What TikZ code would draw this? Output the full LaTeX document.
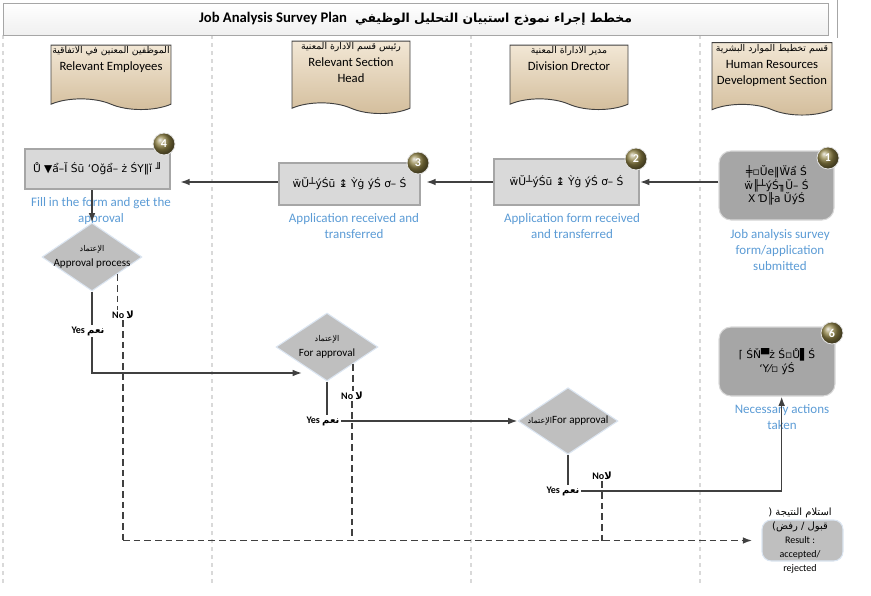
\documentclass[tikz,border=0pt]{standalone}
\usepackage{fontspec}
\setmainfont{Carlito}
\newfontfamily\arabicfont[Script=Arabic]{DejaVu Sans}
\newfontfamily\garblefont{DejaVu Sans}
\TeXXeTstate=1
\usetikzlibrary{shapes.geometric,shapes.symbols,arrows.meta,calc}

\definecolor{boxgray}{HTML}{D9D9D9}
\definecolor{boxedge}{HTML}{A6A6A6}
\definecolor{darkbox}{HTML}{A6A6A6}
\definecolor{diagray}{HTML}{BFBFBF}
\definecolor{glowblue}{HTML}{DCE6F2}
\definecolor{labelblue}{HTML}{5B9BD5}
\definecolor{lanegray}{HTML}{D9D9D9}
\definecolor{linegray}{HTML}{404040}
\definecolor{badgecol}{HTML}{8F8245}
\definecolor{headtop}{HTML}{F2E7D5}
\definecolor{headbot}{HTML}{D3BD9B}

\newcommand{\arab}[1]{{\arabicfont\beginR #1\endR}}

\tikzset{
  lane/.style={draw=lanegray, dashed, line width=0.8pt},
  titlebar/.style={rectangle, draw=boxedge, top color=white, bottom color=black!6, line width=0.6pt},
  lanehead/.style={tape, tape bend top=none, tape bend bottom=out and in, tape bend height=8pt,
    draw=linegray, line width=0.7pt, top color=headtop, bottom color=headbot, align=center,
    inner sep=1pt, minimum width=88.5pt, minimum height=41.25pt},
  stepbox/.style={rectangle, fill=boxgray, draw=boxedge, line width=1.5pt, inner sep=2pt,
    font=\garblefont\fontsize{8}{10}\selectfont},
  roundbox/.style={rectangle, rounded corners=9pt, fill=darkbox, draw=black!15, line width=0.8pt,
    align=center, font=\garblefont\fontsize{8}{10}\selectfont},
  decision/.style={diamond, fill=diagray, draw=glowblue, line width=0.8pt, inner sep=0pt},
  badge/.style={circle, minimum size=16.5pt, inner sep=0pt, shading=ball, ball color=badgecol,
    draw=black!10, line width=0.6pt, text=white, font=\bfseries\fontsize{9}{10}\selectfont},
  note/.style={text=labelblue, align=center, font=\fontsize{9.75}{12}\selectfont},
  dtext/.style={align=center, font=\fontsize{8.3}{11.25}\selectfont},
  answer/.style={font=\bfseries\fontsize{7.5}{9}\selectfont, inner sep=1pt},
  flow/.style={draw=linegray, line width=1.1pt, -{Latex[length=7pt,width=5pt]}},
  solidline/.style={draw=linegray, line width=1.1pt},
  dashline/.style={draw=linegray, line width=1.1pt, dash pattern=on 5pt off 3pt},
}

\begin{document}
\begin{tikzpicture}[x=0.75pt, y=-0.75pt]
    \useasboundingbox (0,0) rectangle (871,596);

    % swim lanes
    \foreach \lx in {3,212,471,700}
        \draw[lane] (\lx,35) -- (\lx,585);
    \draw[draw=boxedge, line width=0.6pt] (837,0) -- (837,38);

    % title
    \node[titlebar, minimum width=618.75pt, minimum height=24pt] (title) at (415.5,19)
        {{\fontsize{11}{13}\selectfont\textbf{Job Analysis Survey Plan}}\hspace{6pt}{\fontsize{9.3}{13}\arabicfont\bfseries\beginR مخطط إجراء نموذج استبيان التحليل الوظيفي\endR}};

    % lane headers
    \node[lanehead] (h1) at (111,72)
        {{\fontsize{7}{9}\selectfont\arab{الموظفين المعنين في الاتفاقية}}\\[1pt]{\fontsize{9.5}{11}\selectfont Relevant Employees}\\[8pt]};
    \node[lanehead] (h2) at (351,72)
        {{\fontsize{7}{9}\selectfont\arab{رئيس قسم الادارة المعنية}}\\[1pt]{\fontsize{9.5}{11}\selectfont Relevant Section}\\{\fontsize{9.5}{11}\selectfont Head}\\[2pt]};
    \node[lanehead] (h3) at (569,72)
        {{\fontsize{7}{9}\selectfont\arab{مدير الاداراة المعنية}}\\[1pt]{\fontsize{9.5}{11}\selectfont Division Drector}\\[8pt]};
    \node[lanehead, minimum width=90pt, minimum height=43.5pt] (h4) at (772,73.5)
        {{\fontsize{7}{9}\selectfont\arab{قسم تخطيط الموارد البشرية}}\\[1pt]{\fontsize{9.5}{11}\selectfont Human Resources}\\{\fontsize{9.5}{11}\selectfont Development Section}\\[2pt]};

    % steps
    \node[stepbox, minimum width=108.75pt, minimum height=30pt] (b4) at (97.5,169) {Ů ▼ẩ–Ĭ Śū ʻOǧẩ– ż ŚY‖ǐ ╜};
    \node[stepbox, minimum width=105.75pt, minimum height=31.5pt] (b3) at (349.5,184) {ẅŬ┴ýŚū ↨ Ỳġ ýŚ ơ– Ś};
    \node[stepbox, minimum width=108.75pt, minimum height=34.5pt] (b2) at (566.5,182) {ẅŬ┴ýŚū ↨ Ỳġ ýŚ ơ– Ś};
    \node[roundbox, minimum width=86.25pt, minimum height=51.75pt] (b1) at (776.5,185.5)
        {╪▫Ŭe‖Ẅẩ Ś\\ẅ╟┴ýŚ╖Ŭ– Ś\\X Ɗ╟a ŬýŚ};
    \node[roundbox, minimum width=87pt, minimum height=51.75pt] (b6) at (777,361.5)
        {⌈ ŚŇ▀ż Ś▫Ů▌Ś\\ʻY⁄▫ ýŚ};
    \node[rectangle, rounded corners=7pt, fill=diagray, draw=glowblue, line width=0.8pt,
        minimum width=60.75pt, minimum height=30.75pt] (res) at (802.5,540.5) {};
    \node[align=center, font=\fontsize{7.5}{10.5}\selectfont] (restext) at (800,540.5)
        {\arab{استلام النتيجة (}\\\arab{قبول / رفض)}\\Result :\\accepted/\\rejected};

    % step badges
    \node[badge] (bg4) at (164,144) {4};
    \node[badge] (bg3) at (418,163) {3};
    \node[badge] (bg2) at (636,159) {2};
    \node[badge] (bg1) at (828,158) {1};
    \node[badge] (bg6) at (832,333) {6};

    % step captions
    \node[note] (l4) at (101,211) {Fill in the form and get the\\approval};
    \node[note] (l3) at (354,226) {Application received and\\transferred};
    \node[note] (l2) at (572,226) {Application form received\\and transferred};
    \node[note] (l1) at (780,250) {Job analysis survey\\form/application\\submitted};
    \node[note] (l6) at (782,417) {Necessary actions\\taken};

    % decisions
    \node[decision, minimum width=75pt, minimum height=51pt] (d1) at (92,257) {};
    \node[decision, minimum width=76.5pt, minimum height=51pt] (d2) at (327,347) {};
    \node[decision, minimum width=75pt, minimum height=50pt] (d3) at (568,421) {};
    \node[dtext] (t1) at (92,256.5) {{\fontsize{6}{8}\selectfont\arab{الإعتماد}}\\Approval process};
    \node[dtext] (t2) at (327,346.5) {{\fontsize{6}{8}\selectfont\arab{الإعتماد}}\\For approval};
    \node[dtext] (t3) at (568,421) {{\fontsize{6}{8}\selectfont\arab{الإعتماد}}For approval};

    % answers
    \node[answer] (yes1) at (88,331) {Yes \arab{نعم}};
    \node[answer] (no1) at (123,315) {No \arab{لا}};
    \node[answer] (yes2) at (323,421) {Yes \arab{نعم}};
    \node[answer] (no2) at (352,396) {No \arab{لا}};
    \node[answer] (yes3) at (563,491) {Yes \arab{نعم}};
    \node[answer] (no3) at (602,476) {No\arab{لا}};
    \coordinate (c1) at (302,373);

    % connectors
    \draw[flow] (b1.west |- b2.east) -- (b2.east);
    \draw[flow, shorten >=4pt] (b2.west) -- (b3.east |- b2.west);
    \draw[flow, shorten >=7pt] (b3.west |- b2.west) -- (b4.east |- b2.west);
    \draw[flow] (d1.north |- b4.south) -- (d1.north);

    \draw[solidline] (d1.south) -- (d1.south |- yes1.north);
    \draw[flow] (yes1.south -| d1.south) |- (c1);
    \draw[dashline] (d1.south east) -- (d1.south east |- no1.north);
    \draw[dashline] (no1.south) -- (no1.south |- res.west);
    \draw[dashline, -{Latex[length=7pt,width=5pt]}, shorten >=7pt] (no1.south |- res.west) -- (res.west);

    \draw[solidline] (d2.south) -- (d2.south |- yes2.north);
    \draw[flow] (yes2.east) -- (d3.west);
    \draw[dashline] (d2.south east) -- (d2.south east |- no2.north);
    \draw[dashline] (no2.south) -- (no2.south |- res.west);

    \draw[solidline] (d3.south) -- (d3.south |- yes3.north);
    \draw[flow] (yes3.east) -| ([xshift=3.5pt]b6.south);
    \draw[solidline] ($(d3.east)!0.3!(d3.south)$) -- ($(d3.east)!0.3!(d3.south)$ |- no3.north);
    \draw[dashline] (no3.south) -- (no3.south |- res.west);
\end{tikzpicture}
\end{document}
